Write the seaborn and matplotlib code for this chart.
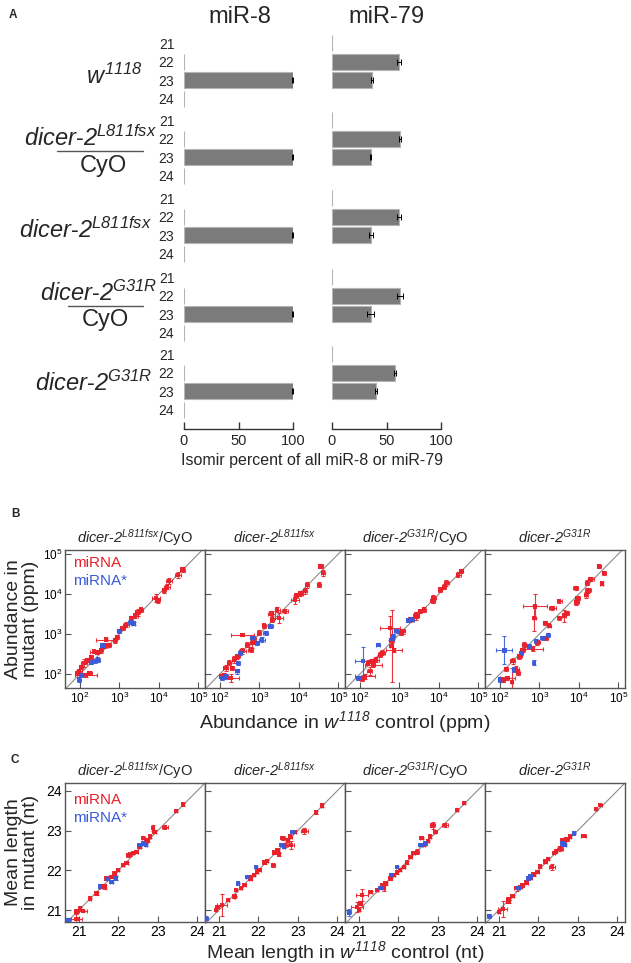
import numpy as np
import pandas as pd
import matplotlib
matplotlib.use('Agg')
import matplotlib.pyplot as plt
from matplotlib.lines import Line2D
from matplotlib.ticker import NullLocator
import seaborn as sns

sns.set_theme(style='white')
FONT = 'Liberation Sans'
plt.rcParams['font.family'] = [FONT, 'DejaVu Sans']
plt.rcParams['mathtext.fontset'] = 'custom'
# math parts in this figure are gene names / superscripts, all italic
plt.rcParams['mathtext.rm'] = FONT + ':italic'
plt.rcParams['mathtext.it'] = FONT + ':italic'
plt.rcParams['mathtext.bf'] = FONT + ':bold'

RED = '#e8202a'
BLUE = '#3a5ad8'
BAR = '#7b7b7b'
BAR_EDGE = '#b5b5b5'

# ---------------- panel A data (isomir percent) ----------------
lengths = ['21', '22', '23', '24']
mir8_pct = [[np.nan, 0.3, 99.6, 0.3],
            [np.nan, 0.3, 99.6, 0.3],
            [np.nan, 0.3, 99.6, 0.3],
            [np.nan, 0.3, 99.6, 0.3],
            [np.nan, 0.3, 99.6, 0.3]]
mir8_err = [[0, 0, 0.3, 0]] * 5
mir79_pct = [[0.4, 61.5, 36.4, np.nan],
             [0.4, 62.4, 35.5, np.nan],
             [0.4, 61.5, 35.8, np.nan],
             [0.4, 62.4, 35.5, np.nan],
             [0.4, 57.8, 40.4, np.nan]]
mir79_err = [[0, 1.5, 1.0, 0],
             [0, 0.5, 0.3, 0],
             [0, 2.0, 2.0, 0],
             [0, 3.0, 3.0, 0],
             [0, 1.0, 0.8, 0]]

# ---------------- panel B data: log10 ppm (control, mutant, err control, err mutant) ----------------
B1_MIRNA = [(4.60, 4.61, 0.06, 0.06), (4.49, 4.48, 0.07, 0.07), (4.26, 4.32, 0.08, 0.08),
            (4.20, 4.18, 0.07, 0.06), (4.13, 4.09, 0.06, 0.06), (3.92, 3.90, 0.10, 0.10),
            (3.97, 3.84, 0.06, 0.06), (3.54, 3.61, 0.05, 0.05), (3.46, 3.54, 0.07, 0.08),
            (3.40, 3.46, 0.06, 0.05), (3.29, 3.40, 0.04, 0.04), (3.16, 3.23, 0.08, 0.06),
            (3.08, 3.15, 0.06, 0.06), (2.94, 2.93, 0.06, 0.05), (2.89, 2.84, 0.05, 0.06),
            (2.66, 2.86, 0.25, 0.04), (2.74, 2.73, 0.05, 0.05), (2.64, 2.71, 0.08, 0.06),
            (2.53, 2.59, 0.06, 0.07), (2.43, 2.54, 0.05, 0.05), (2.36, 2.56, 0.10, 0.04),
            (2.28, 2.43, 0.06, 0.05), (2.19, 2.34, 0.06, 0.05), (2.11, 2.28, 0.08, 0.10),
            (2.03, 2.18, 0.05, 0.05), (1.98, 2.07, 0.06, 0.06), (1.94, 2.03, 0.05, 0.06),
            (2.15, 1.98, 0.28, 0.05), (2.24, 2.03, 0.06, 0.05)]
B1_STAR = [(3.29, 3.29, 0.06, 0.04), (3.36, 3.26, 0.04, 0.04), (3.00, 3.07, 0.05, 0.05),
           (2.57, 2.71, 0.05, 0.06), (2.45, 2.36, 0.05, 0.05), (2.38, 2.32, 0.06, 0.05),
           (2.28, 2.29, 0.05, 0.05), (2.04, 1.98, 0.05, 0.05), (1.98, 1.86, 0.04, 0.06)]

B2_MIRNA = [(4.55, 4.69, 0.06, 0.05), (4.61, 4.53, 0.05, 0.07), (4.51, 4.23, 0.06, 0.06),
            (4.21, 4.23, 0.05, 0.08), (4.15, 4.07, 0.05, 0.07), (4.04, 4.01, 0.06, 0.06),
            (3.92, 3.96, 0.05, 0.06), (3.90, 3.86, 0.10, 0.12), (3.65, 3.57, 0.07, 0.05),
            (3.45, 3.61, 0.06, 0.07), (3.31, 3.51, 0.08, 0.07), (3.49, 3.40, 0.10, 0.12),
            (3.32, 3.36, 0.05, 0.05), (3.11, 3.21, 0.05, 0.05), (2.99, 3.03, 0.04, 0.06),
            (2.86, 2.88, 0.06, 0.08), (2.82, 2.78, 0.06, 0.12), (2.69, 2.73, 0.05, 0.06),
            (2.57, 2.98, 0.28, 0.04), (2.78, 2.61, 0.06, 0.06), (2.57, 2.57, 0.08, 0.07),
            (2.44, 2.44, 0.06, 0.06), (2.35, 2.36, 0.05, 0.08), (2.23, 2.28, 0.06, 0.06),
            (2.31, 2.15, 0.05, 0.05), (2.14, 2.15, 0.07, 0.07), (2.10, 1.98, 0.06, 0.05),
            (2.27, 1.90, 0.20, 0.10), (2.02, 1.94, 0.05, 0.05)]
B2_STAR = [(3.28, 3.19, 0.06, 0.04), (3.16, 3.03, 0.06, 0.05), (3.07, 2.86, 0.08, 0.07),
           (2.95, 2.78, 0.05, 0.05), (2.82, 2.90, 0.05, 0.05), (2.52, 2.53, 0.05, 0.05),
           (2.46, 2.28, 0.04, 0.05), (2.44, 2.07, 0.05, 0.06), (2.14, 1.94, 0.06, 0.06),
           (2.06, 1.90, 0.05, 0.05)]

B3_MIRNA = [(4.57, 4.57, 0.05, 0.05), (4.49, 4.48, 0.06, 0.06), (4.19, 4.28, 0.06, 0.08),
            (4.13, 4.18, 0.06, 0.06), (4.03, 4.11, 0.05, 0.05), (3.86, 3.90, 0.07, 0.08),
            (3.84, 3.82, 0.05, 0.05), (3.62, 3.61, 0.05, 0.07), (3.52, 3.57, 0.04, 0.04),
            (3.42, 3.48, 0.07, 0.06), (3.43, 3.44, 0.06, 0.10), (3.28, 3.36, 0.06, 0.06),
            (3.08, 3.07, 0.06, 0.06), (3.05, 3.03, 0.05, 0.05), (2.80, 2.84, 0.06, 0.06),
            (2.80, 2.70, 0.04, 0.90), (2.76, 3.15, 0.25, 0.30), (2.86, 2.59, 0.20, 0.05),
            (2.57, 2.53, 0.06, 0.06), (2.51, 2.48, 0.06, 0.06), (2.41, 2.36, 0.07, 0.06),
            (2.30, 2.32, 0.06, 0.05), (2.21, 2.28, 0.06, 0.06), (2.34, 2.23, 0.22, 0.06),
            (2.13, 1.94, 0.25, 0.07), (2.04, 1.88, 0.05, 0.06), (2.25, 2.07, 0.06, 0.10)]
B3_STAR = [(3.22, 3.34, 0.06, 0.04), (3.32, 3.36, 0.05, 0.04), (2.93, 3.07, 0.06, 0.05),
           (2.84, 2.94, 0.05, 0.06), (2.82, 2.88, 0.04, 0.04), (2.46, 2.73, 0.05, 0.04),
           (2.08, 2.32, 0.20, 0.35), (1.96, 1.90, 0.05, 0.05)]

B4_MIRNA = [(4.51, 4.69, 0.05, 0.04), (4.64, 4.53, 0.06, 0.05), (4.30, 4.38, 0.08, 0.05),
            (4.20, 4.28, 0.05, 0.06), (4.58, 4.26, 0.04, 0.03), (3.92, 4.15, 0.06, 0.05),
            (4.24, 4.09, 0.08, 0.06), (4.18, 3.98, 0.06, 0.08), (3.97, 3.90, 0.06, 0.06),
            (3.94, 3.79, 0.07, 0.06), (3.50, 3.82, 0.06, 0.04), (3.33, 3.65, 0.08, 0.04),
            (3.69, 3.53, 0.06, 0.05), (3.63, 3.46, 0.05, 0.15), (3.50, 3.40, 0.04, 0.05),
            (2.89, 3.69, 0.30, 0.30), (2.87, 3.40, 0.04, 0.32), (3.15, 3.28, 0.05, 0.05),
            (3.25, 3.21, 0.04, 0.04), (3.16, 2.90, 0.06, 0.05), (2.95, 2.79, 0.06, 0.06),
            (2.83, 2.63, 0.25, 0.06), (2.62, 2.73, 0.05, 0.06), (2.57, 2.59, 0.06, 0.05),
            (2.49, 2.44, 0.06, 0.06), (2.32, 2.32, 0.06, 0.07), (2.15, 2.13, 0.06, 0.05),
            (2.41, 2.13, 0.06, 0.06), (2.19, 1.90, 0.20, 0.05), (2.07, 1.86, 0.05, 0.05),
            (2.45, 2.03, 0.05, 0.06), (2.30, 1.80, 0.03, 0.35)]
B4_STAR = [(3.21, 2.98, 0.05, 0.05), (3.08, 2.90, 0.05, 0.05), (2.91, 2.82, 0.05, 0.05),
           (2.74, 2.69, 0.05, 0.05), (2.11, 2.59, 0.20, 0.35), (2.87, 2.28, 0.02, 0.06),
           (2.53, 2.53, 0.05, 0.05), (2.36, 2.11, 0.05, 0.05), (2.00, 1.86, 0.05, 0.05)]

# ---------------- panel C data: mean length nt (control, mutant, err control, err mutant) ----------------
C1_MIRNA = [(23.64, 23.66, 0.03, 0.03), (23.47, 23.50, 0.03, 0.03), (22.92, 22.97, 0.04, 0.04),
            (23.18, 23.08, 0.08, 0.02), (22.88, 23.06, 0.03, 0.08), (22.80, 22.85, 0.03, 0.03),
            (22.76, 22.76, 0.03, 0.04), (22.63, 22.81, 0.04, 0.03), (22.54, 22.60, 0.03, 0.03),
            (22.46, 22.47, 0.04, 0.04), (22.38, 22.43, 0.03, 0.03), (22.25, 22.39, 0.05, 0.05),
            (22.21, 22.18, 0.03, 0.03), (22.12, 22.13, 0.03, 0.03), (22.00, 22.01, 0.03, 0.03),
            (21.91, 21.92, 0.03, 0.04), (21.83, 21.84, 0.03, 0.03), (21.70, 21.80, 0.03, 0.03),
            (21.66, 21.59, 0.04, 0.05), (21.57, 21.59, 0.03, 0.03), (21.45, 21.42, 0.02, 0.03),
            (21.28, 21.29, 0.02, 0.02), (21.03, 21.04, 0.03, 0.03), (21.11, 20.97, 0.10, 0.02),
            (20.94, 20.96, 0.03, 0.03), (20.94, 20.77, 0.15, 0.12), (22.30, 22.40, 0.03, 0.03),
            (22.70, 22.72, 0.03, 0.03)]
C1_STAR = [(22.63, 22.68, 0.03, 0.03), (22.70, 22.64, 0.03, 0.03), (22.54, 22.64, 0.03, 0.03),
           (21.95, 21.80, 0.03, 0.05), (21.83, 21.71, 0.03, 0.04), (21.74, 21.78, 0.03, 0.03),
           (21.53, 21.59, 0.02, 0.02), (20.73, 20.75, 0.04, 0.04)]

C2_MIRNA = [(23.61, 23.63, 0.03, 0.03), (23.46, 23.46, 0.03, 0.03), (23.17, 22.99, 0.08, 0.08),
            (22.92, 22.96, 0.03, 0.03), (22.81, 22.85, 0.04, 0.04), (22.75, 22.76, 0.04, 0.04),
            (22.62, 22.81, 0.05, 0.04), (22.83, 22.64, 0.08, 0.10), (22.68, 22.64, 0.04, 0.04),
            (22.49, 22.51, 0.03, 0.03), (22.41, 22.45, 0.03, 0.03), (22.22, 22.24, 0.03, 0.03),
            (22.16, 22.20, 0.03, 0.03), (22.37, 22.13, 0.05, 0.04), (22.03, 22.01, 0.03, 0.03),
            (21.97, 21.97, 0.03, 0.03), (21.90, 21.88, 0.03, 0.03), (21.80, 21.78, 0.03, 0.03),
            (21.65, 21.63, 0.03, 0.03), (21.57, 21.55, 0.03, 0.03), (21.44, 21.50, 0.03, 0.03),
            (21.40, 21.34, 0.02, 0.02), (21.24, 21.25, 0.02, 0.02), (21.08, 21.13, 0.12, 0.28),
            (20.97, 21.08, 0.03, 0.03), (20.93, 21.00, 0.03, 0.03), (21.78, 21.83, 0.03, 0.03),
            (22.52, 22.40, 0.03, 0.03)]
C2_STAR = [(22.58, 22.64, 0.03, 0.03), (22.65, 22.60, 0.03, 0.03), (22.87, 22.96, 0.02, 0.02),
           (21.95, 22.09, 0.03, 0.03), (21.73, 21.84, 0.03, 0.03), (21.48, 21.67, 0.03, 0.02),
           (20.68, 20.79, 0.04, 0.04)]

C3_MIRNA = [(23.66, 23.69, 0.03, 0.03), (23.49, 23.52, 0.03, 0.03), (23.19, 23.14, 0.08, 0.06),
            (22.87, 23.13, 0.07, 0.10), (22.94, 22.96, 0.03, 0.03), (22.81, 22.85, 0.03, 0.03),
            (22.76, 22.74, 0.03, 0.03), (22.59, 22.81, 0.05, 0.03), (22.65, 22.64, 0.03, 0.03),
            (22.48, 22.47, 0.04, 0.06), (22.39, 22.43, 0.03, 0.03), (22.31, 22.34, 0.03, 0.03),
            (22.22, 22.20, 0.03, 0.03), (22.14, 22.09, 0.03, 0.03), (22.05, 22.01, 0.03, 0.03),
            (21.97, 21.95, 0.03, 0.03), (21.89, 21.88, 0.03, 0.03), (21.80, 21.80, 0.03, 0.03),
            (21.68, 21.67, 0.03, 0.03), (21.59, 21.63, 0.03, 0.03), (21.63, 21.55, 0.03, 0.08),
            (21.46, 21.50, 0.03, 0.03), (21.30, 21.46, 0.03, 0.03), (21.08, 21.38, 0.15, 0.15),
            (21.04, 21.17, 0.03, 0.03), (20.96, 21.08, 0.15, 0.12), (21.00, 21.00, 0.03, 0.03)]
C3_STAR = [(22.56, 22.64, 0.03, 0.03), (22.69, 22.68, 0.03, 0.03), (21.97, 22.09, 0.03, 0.02),
           (21.83, 21.88, 0.03, 0.03), (21.55, 21.55, 0.03, 0.03), (20.75, 20.94, 0.06, 0.08)]

C4_MIRNA = [(23.57, 23.64, 0.04, 0.02), (23.47, 23.54, 0.03, 0.03), (23.15, 22.87, 0.07, 0.02),
            (22.80, 22.85, 0.03, 0.03), (22.72, 22.78, 0.05, 0.05), (22.66, 22.70, 0.04, 0.04),
            (22.60, 22.76, 0.03, 0.03), (22.56, 22.55, 0.08, 0.06), (22.45, 22.48, 0.03, 0.03),
            (22.40, 22.44, 0.03, 0.03), (22.25, 22.28, 0.03, 0.03), (22.18, 22.22, 0.03, 0.03),
            (22.35, 22.09, 0.07, 0.08), (22.05, 22.10, 0.03, 0.03), (21.98, 21.96, 0.03, 0.03),
            (21.88, 21.90, 0.03, 0.03), (21.80, 21.82, 0.03, 0.03), (21.70, 21.69, 0.03, 0.03),
            (21.60, 21.62, 0.03, 0.03), (21.45, 21.55, 0.06, 0.06), (21.55, 21.58, 0.03, 0.03),
            (21.35, 21.35, 0.03, 0.03), (21.25, 21.22, 0.03, 0.03), (21.10, 21.02, 0.12, 0.20),
            (21.00, 20.95, 0.03, 0.03), (21.25, 21.28, 0.03, 0.03)]
C4_STAR = [(22.90, 22.93, 0.02, 0.02), (22.62, 22.68, 0.03, 0.03), (22.67, 22.64, 0.03, 0.03),
           (21.80, 21.85, 0.03, 0.03), (21.75, 21.80, 0.03, 0.03), (21.50, 21.55, 0.03, 0.03),
           (20.75, 20.85, 0.04, 0.06)]

PANEL_TITLES = [r'$dicer$-$2^{L811fsx}$/CyO',
                r'$dicer$-$2^{L811fsx}$',
                r'$dicer$-$2^{G31R}$/CyO',
                r'$dicer$-$2^{G31R}$']

# ---------------- figure ----------------
W, H = 631, 963
fig = plt.figure(figsize=(W / 100, H / 100), dpi=100)


def box(left, top, w, h):
    return [left / W, 1 - (top + h) / H, w / W, h / H]


def ftext(x, y, s, **kw):
    kw.setdefault('ha', 'center')
    kw.setdefault('va', 'center')
    return fig.text(x / W, 1 - y / H, s, **kw)


# panel A
ftext(13, 15, 'A', fontsize=8.5, weight='bold')
ftext(240, 17, 'miR-8', fontsize=17)
ftext(386, 17, 'miR-79', fontsize=17)

a_tops = [34, 111, 189, 268, 345]
for gi, top in enumerate(a_tops):
    for ci, (vals, errs, left) in enumerate([(mir8_pct, mir8_err, 184), (mir79_pct, mir79_err, 332)]):
        ax = fig.add_axes(box(left, top, 109, 74))
        df = pd.DataFrame({'length': lengths, 'pct': vals[gi]})
        sns.barplot(data=df, x='pct', y='length', order=lengths, color=BAR, saturation=1,
                    width=0.85, edgecolor=BAR_EDGE, linewidth=0.8, errorbar=None, ax=ax)
        pos = [i for i, e in enumerate(errs[gi]) if e > 0]
        ax.errorbar([vals[gi][i] for i in pos], pos, xerr=[errs[gi][i] for i in pos],
                    fmt='none', ecolor='black', elinewidth=0.7, capsize=2.2, capthick=0.7)
        ax.set_xlim(0, 100)
        ax.set_ylim(3.5, -0.5)
        ax.set_xlabel('')
        ax.set_ylabel('')
        sns.despine(ax=ax, left=True, bottom=(gi < 4))
        if ci == 0:
            ax.tick_params(axis='y', length=0, pad=7, labelsize=10)
        else:
            ax.set_yticks([])
        if gi < 4:
            ax.set_xticks([])
        else:
            ax.spines['bottom'].set_position(('outward', 7))
            ax.spines['bottom'].set_color('#333333')
            ax.spines['bottom'].set_linewidth(1.0)
            ax.set_xticks([0, 50, 100])
            ax.tick_params(axis='x', direction='in', length=5, width=1.0, color='#333333',
                           labelsize=10.5, pad=4, bottom=True)

ftext(312, 460, 'Isomir percent of all miR-8 or miR-79', fontsize=11.5)

# genotype labels
ftext(143, 76, r'$w^{1118}$', ha='right', fontsize=17)
ftext(157, 138, r'$dicer$-$2^{L811fsx}$', ha='right', fontsize=17)
fig.add_artist(Line2D([57 / W, 143 / W], [1 - 151 / H] * 2, color='#555555', lw=1))
ftext(103, 166, 'CyO', fontsize=17)
ftext(152, 230, r'$dicer$-$2^{L811fsx}$', ha='right', fontsize=17)
ftext(157, 293, r'$dicer$-$2^{G31R}$', ha='right', fontsize=17)
fig.add_artist(Line2D([68 / W, 143 / W], [1 - 306 / H] * 2, color='#555555', lw=1))
ftext(105, 320, 'CyO', fontsize=17)
ftext(152, 383, r'$dicer$-$2^{G31R}$', ha='right', fontsize=17)


def draw_panel(ax, mirna, star, logscale):
    frames = []
    for pts, kind in ((mirna, 'miRNA'), (star, 'miRNA*')):
        d = pd.DataFrame(pts, columns=['ctrl', 'mut', 'ce', 'me'])
        d['type'] = kind
        frames.append(d)
    df = pd.concat(frames, ignore_index=True)
    if logscale:
        df['x'] = 10 ** df['ctrl']
        df['y'] = 10 ** df['mut']
        xerr = [df['x'] - 10 ** (df['ctrl'] - df['ce']), 10 ** (df['ctrl'] + df['ce']) - df['x']]
        yerr = [df['y'] - 10 ** (df['mut'] - df['me']), 10 ** (df['mut'] + df['me']) - df['y']]
    else:
        df['x'] = df['ctrl']
        df['y'] = df['mut']
        xerr = [df['ce'], df['ce']]
        yerr = [df['me'], df['me']]
    for kind, color in (('miRNA', RED), ('miRNA*', BLUE)):
        m = (df['type'] == kind).values
        ax.errorbar(df['x'][m], df['y'][m],
                    xerr=[xerr[0][m], xerr[1][m]], yerr=[yerr[0][m], yerr[1][m]],
                    fmt='none', ecolor=color, elinewidth=0.8, capsize=1.5, capthick=0.8,
                    alpha=0.9, zorder=2)
    sns.scatterplot(data=df, x='x', y='y', hue='type', palette={'miRNA': RED, 'miRNA*': BLUE},
                    marker='s', s=10, linewidth=0, alpha=0.95, legend=False, ax=ax, zorder=3)
    ax.set_xlabel('')
    ax.set_ylabel('')


def style_axes(ax, first):
    for sp in ax.spines.values():
        sp.set_visible(True)
        sp.set_color('#555555')
        sp.set_linewidth(1.0)
    ax.tick_params(direction='in', length=4, width=0.8, color='#555555',
                   left=True, bottom=True, top=False, right=False, labelcolor='black')
    if not first:
        ax.tick_params(labelleft=False)


lefts = [65, 205, 345, 485]

# panel B
B_TOP = 550
ftext(15, 514, 'B', fontsize=8.5, weight='bold')
b_sets = [(B1_MIRNA, B1_STAR), (B2_MIRNA, B2_STAR), (B3_MIRNA, B3_STAR), (B4_MIRNA, B4_STAR)]
for i, (mirna, star) in enumerate(b_sets):
    ax = fig.add_axes(box(lefts[i], B_TOP, 140, 138))
    ax.set_xscale('log')
    ax.set_yscale('log')
    lo, hi = 10, 10 ** 6
    ax.plot([lo, hi], [lo, hi], color='#8c8c8c', lw=0.8, zorder=1)
    draw_panel(ax, mirna, star, True)
    ax.set_xlim(10 ** 1.62, 10 ** 5.17)
    ax.set_ylim(10 ** 1.65, 10 ** 5.1)
    ax.set_xticks([1e2, 1e3, 1e4, 1e5])
    ax.set_yticks([1e2, 1e3, 1e4, 1e5])
    ax.xaxis.set_minor_locator(NullLocator())
    ax.yaxis.set_minor_locator(NullLocator())
    style_axes(ax, i == 0)
    ax.tick_params(labelsize=8.5, pad=2)
    ax.set_title(PANEL_TITLES[i], fontsize=10.5, pad=5)
    if i == 0:
        ax.text(0.055, 0.905, 'miRNA', transform=ax.transAxes, color=RED, fontsize=11, va='center')
        ax.text(0.055, 0.775, 'miRNA*', transform=ax.transAxes, color=BLUE, fontsize=11, va='center')

ftext(22, B_TOP + 69, 'Abundance in\nmutant (ppm)', rotation=90, fontsize=14, linespacing=1.0)
ftext(345, 722, r'Abundance in $w^{1118}$ control (ppm)', fontsize=14)

# panel C
ftext(15, 760, 'C', fontsize=8.5, weight='bold')
c_sets = [(C1_MIRNA, C1_STAR), (C2_MIRNA, C2_STAR), (C3_MIRNA, C3_STAR), (C4_MIRNA, C4_STAR)]
for i, (mirna, star) in enumerate(c_sets):
    ax = fig.add_axes(box(lefts[i], 783, 140, 139))
    ax.plot([20, 25], [20, 25], color='#8c8c8c', lw=0.8, zorder=1)
    draw_panel(ax, mirna, star, False)
    ax.set_xlim(20.65, 24.2)
    ax.set_ylim(20.7, 24.2)
    ax.set_xticks([21, 22, 23, 24])
    ax.set_yticks([21, 22, 23, 24])
    style_axes(ax, i == 0)
    ax.tick_params(labelsize=10, pad=2)
    ax.set_title(PANEL_TITLES[i], fontsize=10.5, pad=5)
    if i == 0:
        ax.text(0.055, 0.878, 'miRNA', transform=ax.transAxes, color=RED, fontsize=11, va='center')
        ax.text(0.055, 0.748, 'miRNA*', transform=ax.transAxes, color=BLUE, fontsize=11, va='center')

ftext(22, 852, 'Mean length\nin mutant (nt)', rotation=90, fontsize=14, linespacing=1.0)
ftext(345, 952, r'Mean length in $w^{1118}$ control (nt)', fontsize=14)

fig.savefig('out.png', dpi=100)
